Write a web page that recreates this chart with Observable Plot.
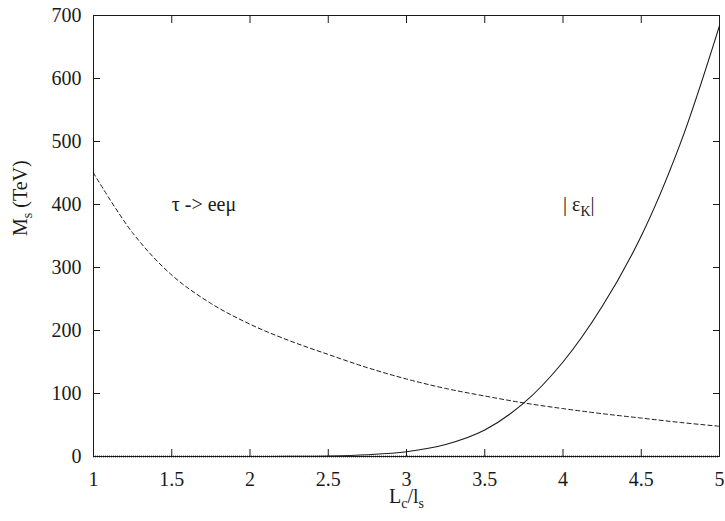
<!DOCTYPE html>
<html>
<head>
<meta charset="utf-8">
<script src="https://cdn.jsdelivr.net/npm/d3@7"></script>
<script src="https://cdn.jsdelivr.net/npm/@observablehq/plot@0.6"></script>
<style>
  html, body { margin: 0; padding: 0; background: #fff; }
  #chart svg, #chart svg text, #chart svg tspan { font-family: "Liberation Serif", "DejaVu Serif", serif !important; }
</style>
</head>
<body>
<div id="chart"></div>
<script>
// Lc/ls values
const ratio = [1, 1.25, 1.5, 1.75, 2, 2.25, 2.5, 2.75, 3, 3.25, 3.5, 3.75, 4, 4.25, 4.5, 4.75, 5];
// bound from tau -> e e mu (dashed)
const tauBound = [450, 355, 288, 243, 210, 184, 162, 141, 123, 108, 96, 85, 76, 68, 61, 54, 48];
// bound from |epsilon_K| (solid)
const epsBound = [0, 0, 0, 0, 0.05, 0.2, 0.8, 2.8, 7.5, 19, 42, 85, 150, 238, 350, 497, 684];

const xTicks = [1, 1.5, 2, 2.5, 3, 3.5, 4, 4.5, 5];
const yTicks = [0, 100, 200, 300, 400, 500, 600, 700];

const labels = [
  {x: 1.5, y: 400, text: "τ -> eeμ"},
  {x: 4.0, y: 400, text: "| ε_{K}|"}
];
const xLabel = "L_{c}/l_{s}";
const yLabel = "M_{s} (TeV)";

const tau = ratio.map((r, i) => ({x: r, y: tauBound[i]}));
const eps = ratio.map((r, i) => ({x: r, y: epsBound[i]}));

const FS = 20;
const ink = "#1a1a1a";
const serif = "Liberation Serif";

const chart = Plot.plot({
  width: 725,
  height: 521,
  marginLeft: 93,
  marginRight: 6,
  marginTop: 15,
  marginBottom: 65,
  style: {fontFamily: serif, fontSize: FS + "px", color: ink, background: "#fff"},
  x: {domain: [1, 5]},
  y: {domain: [0, 700]},
  marks: [
    Plot.line(eps, {x: "x", y: "y", stroke: ink, strokeWidth: 1.1, curve: "catmull-rom"}),
    Plot.line(tau, {x: "x", y: "y", stroke: ink, strokeWidth: 1, strokeDasharray: "4,3", curve: "catmull-rom"}),
    Plot.ruleY([0], {stroke: "#555", strokeWidth: 2.2, strokeDasharray: "1,1"}),
    Plot.frame({stroke: ink, strokeWidth: 1}),
    Plot.axisX({anchor: "bottom", ticks: xTicks, tickSize: -7, tickPadding: 22, tickFormat: d => String(d), label: null, fontSize: FS, fontFamily: serif, stroke: ink, fill: ink}),
    Plot.axisX({anchor: "top", ticks: xTicks, tickSize: -7, tickFormat: () => "", label: null, stroke: ink}),
    Plot.axisY({anchor: "left", ticks: yTicks, tickSize: -7, tickPadding: 19, tickFormat: d => String(d), label: null, fontSize: FS, fontFamily: serif, stroke: ink, fill: ink}),
    Plot.axisY({anchor: "right", ticks: yTicks, tickSize: -7, tickFormat: () => "", label: null, stroke: ink}),
    Plot.text(labels, {x: "x", y: "y", text: "text", textAnchor: "start", fontSize: FS, fontFamily: serif, fill: ink}),
    Plot.text([xLabel], {frameAnchor: "bottom", dy: 46, text: d => d, fontSize: FS, fontFamily: serif, fill: ink}),
    Plot.text([yLabel], {frameAnchor: "left", dx: -73, rotate: -90, text: d => d, fontSize: FS, fontFamily: serif, fill: ink})
  ]
});

// convert "_{..}" markup into subscript tspans; wrap all text runs in tspans
const NS = "http://www.w3.org/2000/svg";
chart.querySelectorAll("text").forEach(t => {
  const s = t.textContent;
  if (!s) return;
  t.setAttribute("font-family", serif);
  while (t.firstChild) t.removeChild(t.firstChild);
  const parts = s.split(/(_\{[^}]*\})/);
  let shifted = false;
  parts.forEach(p => {
    if (!p) return;
    const ts = document.createElementNS(NS, "tspan");
    ts.setAttribute("font-family", serif);
    ts.setAttribute("fill", ink);
    if (p.startsWith("_{")) {
      ts.textContent = p.slice(2, -1);
      ts.setAttribute("font-size", Math.round(FS * 0.72));
      ts.setAttribute("dy", "5");
      shifted = true;
    } else {
      ts.textContent = p;
      if (shifted) { ts.setAttribute("dy", "-5"); shifted = false; }
    }
    t.appendChild(ts);
  });
});

document.getElementById("chart").appendChild(chart);
</script>
</body>
</html>
